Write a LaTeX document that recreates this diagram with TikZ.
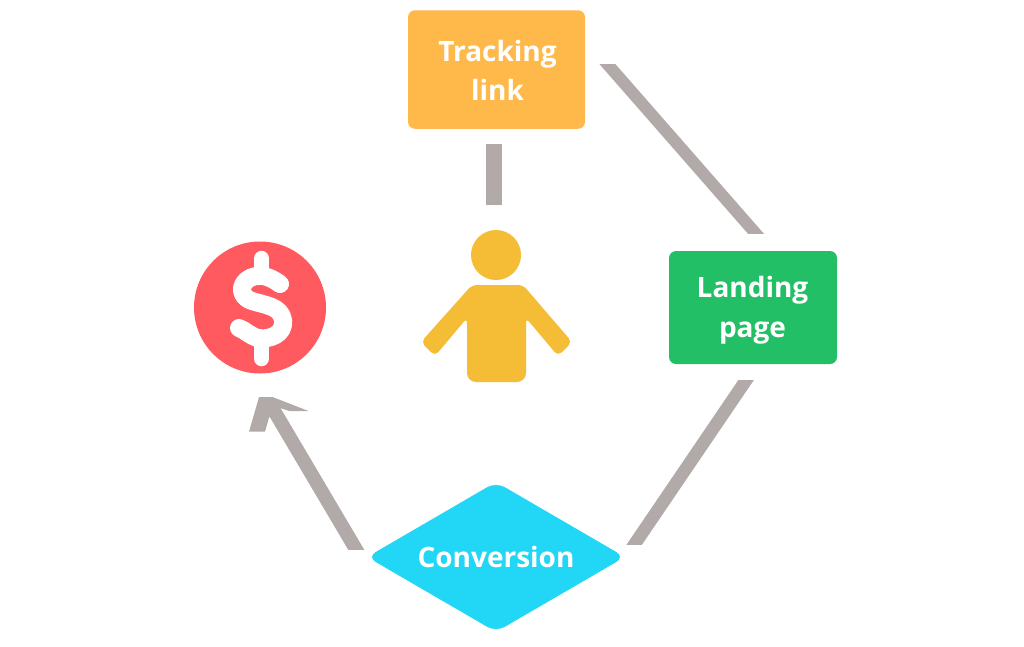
\documentclass[tikz,border=0pt]{standalone}
\usepackage{fontspec}
\setmainfont{Open Sans}[BoldFont={Open Sans Bold}]
\usetikzlibrary{shapes.geometric,calc}
\definecolor{conncol}{HTML}{B1AAA8}
\definecolor{trackcol}{HTML}{FFB94A}
\definecolor{landcol}{HTML}{22BF67}
\definecolor{convcol}{HTML}{22D6F5}
\definecolor{moneycol}{HTML}{FF5A5F}
\definecolor{personcol}{HTML}{F5BC35}
\tikzset{
  flowbox/.style={rectangle,rounded corners=7pt,inner sep=0pt},
  flowtext/.style={inner sep=0pt,text=white,align=center,
    font=\fontsize{28}{39.5}\selectfont\bfseries},
}
\begin{document}
\begin{tikzpicture}[x=1pt,y=-1pt]
\useasboundingbox (0,0) rectangle (1024,646);
\fill[white] (0,0) rectangle (1024,646);

% nodes
\node[flowbox,fill=trackcol,minimum width=177pt,minimum height=118.5pt] (track) at (496.5,69.5) {};
\node[flowtext] (tracktext) at ($(track)+(1,1)$) {Tracking\\link};
\node[flowbox,fill=landcol,minimum width=168pt,minimum height=113pt] (land) at (753,307.5) {};
\node[flowtext] (landtext) at ($(land)+(-0.5,2.5)$) {Landing\\page};
\node[flowbox,shape=diamond,fill=convcol,minimum width=258pt,minimum height=150pt,aspect=1.72,rounded corners=10pt] (conv) at (496,557) {};
\node[flowtext] (convtext) at (conv) {Conversion};
\node[circle,fill=moneycol,minimum size=132pt,inner sep=0pt] (money) at (260,307.5) {};
\node[circle,fill=personcol,minimum size=50pt,inner sep=0pt] (head) at (496,255) {};

% person body
\fill[personcol,rounded corners=5pt] (472,285) -- (523,285) -- (572,342) -- (558,356) -- (526,318)
  [rounded corners=9pt] -- (526,382) -- (467,382) [rounded corners=5pt] -- (467,318) -- (435,356) -- (421,342) -- cycle;

% dollar sign
\draw[white,line width=15.5pt,line cap=round] (261.5,258.5) -- (261.5,275) (261.5,340) -- (261.5,358.5);
\draw[white,line width=18pt,line cap=round,line join=round]
  (280,284) .. controls (272,278) and (264,275) .. (257,276)
  .. controls (240,278) and (236,296) .. (252,301)
  .. controls (264,305) and (281,306) .. (283,320)
  .. controls (285,334) and (270,340) .. (258,338)
  .. controls (250,336) and (245,330) .. (239,328);

% connectors
\coordinate (c1a) at ($(track.east)+(23,-4.5)$);
\coordinate (c1b) at ($(land.north)+(3,-17)$);
\coordinate (c2a) at ($(land.south)+(-7,16)$);
\coordinate (c2b) at ($(conv.east)+(9.5,-13)$);
\coordinate (c3a) at ($(conv.west)+(-11,-8)$);
\coordinate (c3b) at ($(money.south)+(12,33.5)$);
\coordinate (c0a) at ($(track.south)+(-2.5,0)$);
\coordinate (c0b) at ($(head.north)+(-2,0)$);
\tikzset{conn/.style={draw=conncol}}
\begin{scope}
  \clip (400,144) rectangle (600,204.5);
  \draw[conn,line width=16pt] (c0a) -- (c0b);
\end{scope}
\begin{scope}
  \clip (590,64.5) rectangle (780,233.5);
  \draw[conn,line width=12pt] ($(c1a)!-0.1!(c1b)$) -- ($(c1a)!1.1!(c1b)$);
\end{scope}
\begin{scope}
  \clip (600,380) rectangle (770,544);
  \draw[conn,line width=12.8pt] ($(c2a)!-0.1!(c2b)$) -- ($(c2a)!1.1!(c2b)$);
\end{scope}
\begin{scope}
  \clip (240,405) rectangle (380,549);
  \draw[conn,line width=13.8pt] ($(c3a)!-0.1!(c3b)$) -- ($(c3a)!1.1!(c3b)$);
\end{scope}
% arrow head
\coordinate (h1) at ($(money.south)+(-1,23.5)$);
\fill[conncol] (h1) -- ++(14,0) -- ++(36,14) -- ++(-19,0) -- ++(-11,-3.5) -- ++(-10,10) -- ++(-4,14) -- ++(-16,0) -- cycle;
\end{tikzpicture}
\end{document}
